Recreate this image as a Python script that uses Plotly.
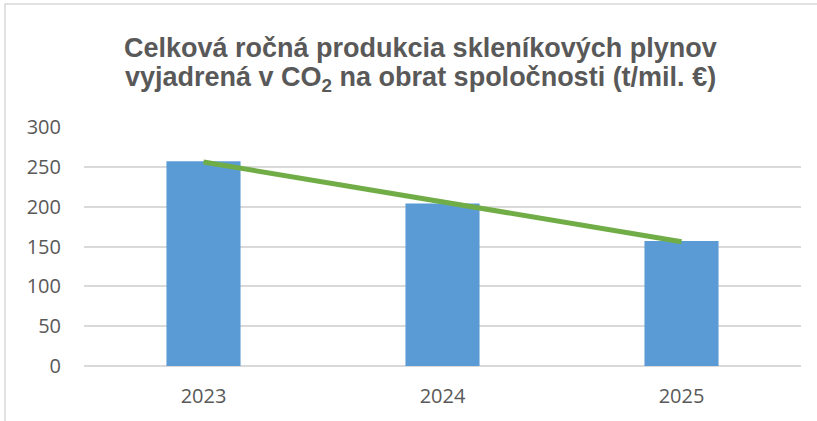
import numpy as np
import plotly.graph_objects as go

years = ["2023", "2024", "2025"]
values = [257, 204, 157]
y_ticks = [0, 50, 100, 150, 200, 250, 300]
title_lines = [
    "<b>Celková ročná produkcia skleníkových plynov</b>",
    "<b>vyjadrená v CO<sub>2</sub> na obrat spoločnosti (t/mil. €)</b>",
]

# linear trendline derived from the data
idx = np.arange(len(values))
slope, intercept = np.polyfit(idx, values, 1)
trend = list(slope * idx + intercept)

PL, PR, PT, PB = 84, 801, 127, 366  # plot area in page pixels
PW, PH = PR - PL, PB - PT


def py(pix):
    return (PB - pix) / PH


def px(pix):
    return (pix - PL) / PW


fig = go.Figure()
fig.add_trace(go.Bar(x=years, y=values, marker=dict(color="#5b9bd5", line=dict(width=0)),
                     showlegend=False, hoverinfo="skip"))
fig.add_trace(go.Scatter(x=years, y=trend, mode="lines",
                         line=dict(color="#70ad47", width=5),
                         showlegend=False, hoverinfo="skip"))

title_font = dict(size=27, color="#595959", family="Liberation Sans, Arial, sans-serif")
annotations = [
    dict(text=title_lines[0], xref="paper", yref="paper", x=px(420), y=py(48),
         xanchor="center", yanchor="middle", showarrow=False, font=title_font),
    dict(text=title_lines[1], xref="paper", yref="paper", x=px(420), y=py(79),
         xanchor="center", yanchor="middle", showarrow=False, font=title_font),
]

tick_font = dict(size=20, color="#595959", family="Open Sans, sans-serif")

fig.update_layout(
    width=817, height=421,
    margin=dict(l=PL, r=817 - PR, t=PT, b=421 - PB),
    paper_bgcolor="white", plot_bgcolor="white",
    bargap=0.69,
    font=dict(family="Open Sans, sans-serif", color="#595959"),
    annotations=annotations,
    xaxis=dict(showgrid=False, showline=False, ticks="", tickfont=tick_font,
               ticklabelstandoff=16),
    yaxis=dict(range=[0, 300], tickvals=y_ticks, showgrid=True, gridcolor="#d9d9d9", gridwidth=1.5,
               zeroline=True, zerolinecolor="#d9d9d9", zerolinewidth=1.5,
               showline=False, ticks="", tickfont=tick_font,
               ticklabelstandoff=22),
    shapes=[dict(type="rect", xref="paper", yref="paper",
                 x0=px(5), x1=1.2, y0=-0.5, y1=py(4),
                 line=dict(color="#d9d9d9", width=1.5), fillcolor="rgba(0,0,0,0)", layer="below")],
)

fig.write_html("out.html", config={"displayModeBar": False},
               post_script="document.body.style.margin='0';")
